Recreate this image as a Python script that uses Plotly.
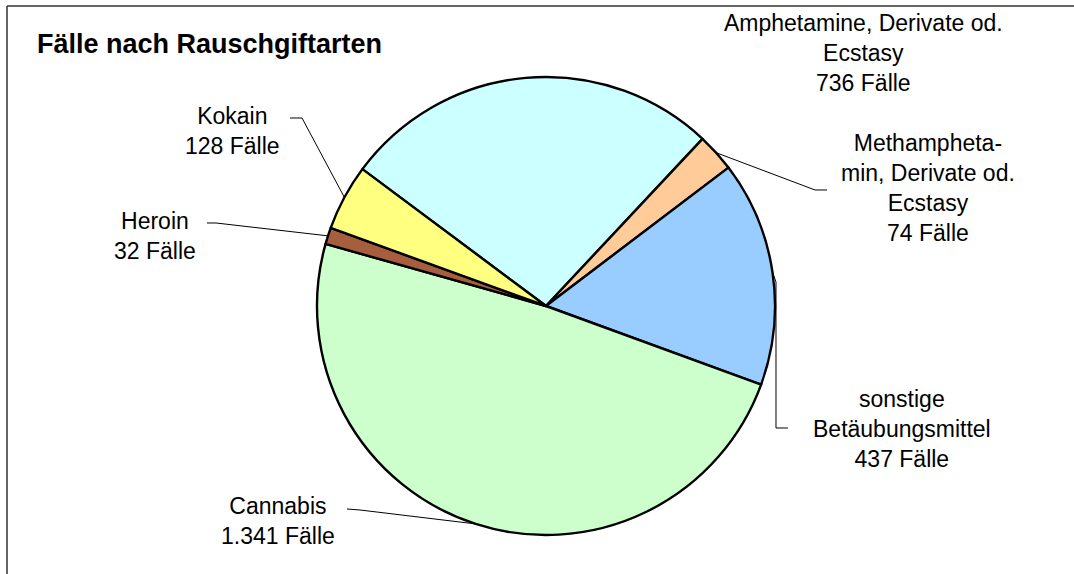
import math
import plotly.graph_objects as go

# ---- data ----
categories = [
    "Amphetamine, Derivate od. Ecstasy",
    "Methamphetamin, Derivate od. Ecstasy",
    "sonstige Betäubungsmittel",
    "Cannabis",
    "Heroin",
    "Kokain",
]
label_lines = [
    ["Amphetamine, Derivate od.", "Ecstasy"],
    ["Methampheta-", "min, Derivate od.", "Ecstasy"],
    ["sonstige", "Betäubungsmittel"],
    ["Cannabis"],
    ["Heroin"],
    ["Kokain"],
]
values = [736, 74, 437, 1341, 32, 128]
title_text = "Fälle nach Rauschgiftarten"

# ---- styling / layout ----
colors = ["#CCFFFF", "#FFCC99", "#99CCFF", "#CCFFCC", "#A65E3E", "#FFFF80"]
W, H = 1074, 574
CX, CY, R = 546, 306, 229
START_DEG = 306.7  # clockwise from 12 o'clock
FONT = "Liberation Sans, Arial, sans-serif"

# label centres (px) and leader-line waypoints (px), from label end toward slice
label_pos = [(863, 53), (928, 188), (902, 429), (278, 521), (155, 236), (232, 131)]
leader_pts = [
    None,
    [(827, 190), (815, 190)],
    [(788, 428), (776, 428), (776, 282)],
    [(347, 509), (360, 510)],
    [(207, 223), (216, 223)],
    [(290, 118), (302, 118)],
]


def fmt(v):
    return f"{v:,}".replace(",", ".")


def px(x, y):
    return x / W, 1 - y / H


fig = go.Figure(
    go.Pie(
        labels=categories,
        values=values,
        sort=False,
        direction="clockwise",
        rotation=START_DEG - 360,
        marker=dict(colors=colors, line=dict(color="black", width=2.4)),
        textinfo="none",
        hoverinfo="label+value",
        showlegend=False,
        domain=dict(
            x=[(CX - R) / W, (CX + R) / W],
            y=[1 - (CY + R) / H, 1 - (CY - R) / H],
        ),
    )
)

annotations = []
shapes = []
total = sum(values)
cum = 0
for i, v in enumerate(values):
    mid = START_DEG + (cum + v / 2) / total * 360
    cum += v
    a = math.radians(mid)
    ax, ay = CX + R * math.sin(a), CY - R * math.cos(a)
    text = "<br>".join(label_lines[i] + [f"{fmt(v)} Fälle"])
    lx, ly = px(*label_pos[i])
    annotations.append(
        dict(
            x=lx, y=ly, xref="paper", yref="paper", text=text, showarrow=False,
            xanchor="center", yanchor="middle", align="center",
            font=dict(family=FONT, size=23, color="black"),
        )
    )
    if leader_pts[i]:
        pts = leader_pts[i] + [(ax, ay)]
        path = ""
        for j, (x, y) in enumerate(pts):
            qx, qy = px(x, y)
            path += ("M" if j == 0 else " L") + f" {qx:.5f} {qy:.5f}"
        shapes.append(
            dict(type="path", path=path, xref="paper", yref="paper",
                 line=dict(color="black", width=1))
        )

annotations.append(
    dict(
        x=35 / W, y=1 - 44 / H, xref="paper", yref="paper",
        text=f"<b>{title_text}</b>", showarrow=False,
        xanchor="left", yanchor="middle",
        font=dict(family=FONT, size=27, color="black"),
    )
)

# outer frame (left and top edges visible)
shapes.append(dict(type="line", xref="paper", yref="paper",
                   x0=7 / W, y0=-0.05, x1=7 / W, y1=1 - 6 / H,
                   line=dict(color="#333333", width=1.5)))
shapes.append(dict(type="line", xref="paper", yref="paper",
                   x0=7 / W, y0=1 - 6 / H, x1=1.05, y1=1 - 6 / H,
                   line=dict(color="#333333", width=1.5)))

fig.update_layout(
    width=W, height=H,
    margin=dict(l=0, r=0, t=0, b=0),
    paper_bgcolor="white", plot_bgcolor="white",
    annotations=annotations, shapes=shapes,
    font=dict(family=FONT),
)

fig.write_html(
    "out.html",
    config={"displayModeBar": False},
    post_script="document.body.style.margin='0px';document.body.style.overflow='hidden';",
)
